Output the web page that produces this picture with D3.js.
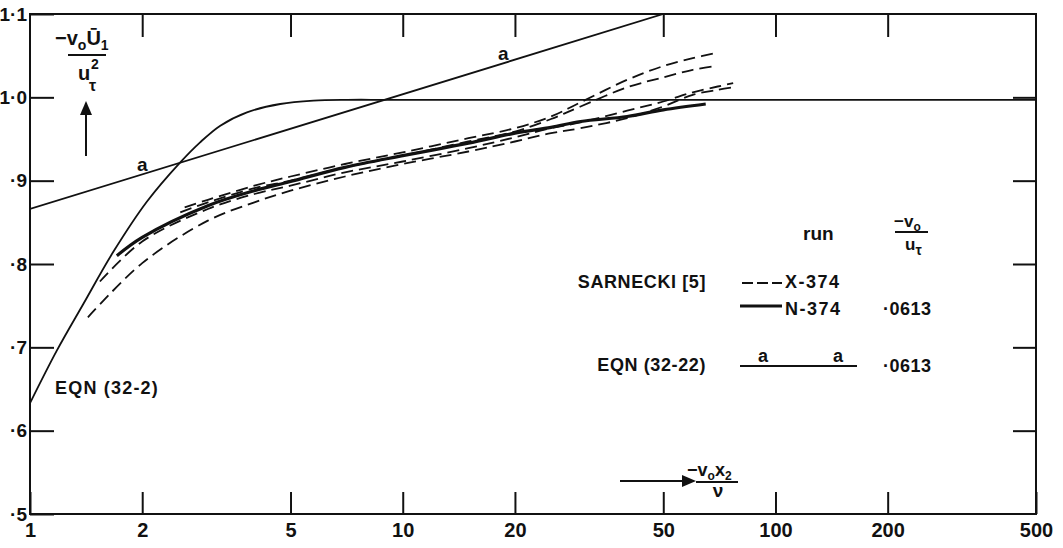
<!DOCTYPE html>
<html>
<head>
<meta charset="utf-8">
<script src="https://cdn.jsdelivr.net/npm/d3@7"></script>
<style>
  body { margin: 0; background: #fff; }
  text { font-family: "Liberation Sans", Arial, sans-serif; font-weight: bold; fill: #111; }
</style>
</head>
<body>
<svg id="chart" width="1063" height="548"></svg>
<script>
// axis values
const xTicks = [1, 2, 5, 10, 20, 50, 100, 200, 500];
const yTicks = [0.5, 0.6, 0.7, 0.8, 0.9, 1.0, 1.1];
const yTickLabels = ["·5", "·6", "·7", "·8", "·9", "1·0", "1·1"];

// EQN (32-2)
const eqnX = [1, 1.18, 1.39, 1.67, 2.06, 2.53, 2.86, 3.24, 3.82, 4.69, 5.76, 7.1, 9.4, 500];
const eqnY = [0.633, 0.696, 0.752, 0.814, 0.875, 0.922, 0.946, 0.966, 0.982, 0.992, 0.996, 0.997, 0.997, 0.997];

// EQN (32-22), straight line "a"
const lineAX = [1, 50];
const lineAY = [0.866, 1.1];
const aLabelX = [2.0, 18.6];

// N-374 (solid)
const n374X = [1.71, 2, 3, 4, 5, 7, 10, 15, 20, 25, 30, 40, 50, 65];
const n374Y = [0.810, 0.832, 0.870, 0.888, 0.899, 0.916, 0.930, 0.945, 0.957, 0.964, 0.971, 0.977, 0.985, 0.992];

// X-374 (dashed, four traces)
const x374aX = [1.43, 2, 3, 4, 5, 7, 10, 15, 20, 25, 30, 40, 50, 60, 70, 77];
const x374aY = [0.736, 0.801, 0.852, 0.874, 0.888, 0.905, 0.920, 0.935, 0.947, 0.957, 0.963, 0.975, 0.989, 1.003, 1.009, 1.012];
const x374bX = [1.54, 2, 3, 4, 5, 7, 10, 15, 20, 25, 30, 40, 50, 60, 70, 77];
const x374bY = [0.779, 0.827, 0.866, 0.884, 0.894, 0.910, 0.923, 0.939, 0.952, 0.963, 0.970, 0.984, 0.995, 1.006, 1.013, 1.017];
const x374cX = [2.53, 3, 4, 5, 7, 10, 15, 20, 25, 30, 40, 50, 60, 69];
const x374cY = [0.862, 0.874, 0.891, 0.900, 0.916, 0.930, 0.947, 0.959, 0.974, 0.989, 1.012, 1.024, 1.033, 1.0375];
const x374dX = [2.6, 3, 4, 5, 7, 10, 15, 20, 25, 30, 40, 50, 60, 69];
const x374dY = [0.868, 0.877, 0.894, 0.905, 0.920, 0.934, 0.951, 0.963, 0.977, 0.994, 1.021, 1.0375, 1.047, 1.053];

const ink = "#111";
const svg = d3.select("#chart");

const x = d3.scaleLog().domain([1, 500]).range([30, 1036]);
const y = d3.scaleLinear().domain([0.5, 1.1]).range([514, 14]);

const zip = (xs, ys) => xs.map((v, i) => [v, ys[i]]);
const line = d3.line().x(d => x(d[0])).y(d => y(d[1])).curve(d3.curveCatmullRom.alpha(0.5));

svg.append("clipPath").attr("id", "plot")
  .append("rect").attr("x", 30).attr("y", 14).attr("width", 1006).attr("height", 500);

// axes (ticks drawn inward)
function styleAxis(g, size) {
  g.select(".domain").remove();
  g.attr("color", ink).attr("font-size", size).attr("font-family", null);
  g.selectAll(".tick line").attr("stroke-width", 2);
}

svg.append("g").attr("transform", "translate(0,514)")
  .call(d3.axisBottom(x).tickValues(xTicks).tickFormat(d3.format("d")).tickSize(-22).tickPadding(9))
  .call(g => styleAxis(g, 20));

svg.append("g").attr("transform", "translate(0,14)")
  .call(d3.axisTop(x).tickValues(xTicks.slice(1, -1)).tickFormat("").tickSize(-23))
  .call(g => styleAxis(g, 20));

svg.append("g").attr("transform", "translate(30,0)")
  .call(d3.axisLeft(y).tickValues(yTicks).tickFormat((d, i) => yTickLabels[i]).tickSize(-24).tickPadding(3))
  .call(g => styleAxis(g, 19));

svg.append("g").attr("transform", "translate(1036,0)")
  .call(d3.axisRight(y).tickValues(yTicks.slice(1, -1)).tickFormat("").tickSize(-23))
  .call(g => styleAxis(g, 19));

// frame
svg.append("rect").attr("x", 30).attr("y", 14).attr("width", 1006).attr("height", 500)
  .attr("fill", "none").attr("stroke", ink).attr("stroke-width", 2);

// curves
const plot = svg.append("g").attr("clip-path", "url(#plot)").attr("fill", "none").attr("stroke", ink);

plot.append("path").attr("d", line(zip(eqnX, eqnY))).attr("stroke-width", 1.8);
plot.append("path").attr("d", line(zip(lineAX, lineAY))).attr("stroke-width", 1.8);

[[x374aX, x374aY], [x374bX, x374bY], [x374cX, x374cY], [x374dX, x374dY]].forEach(([xs, ys]) => {
  plot.append("path").attr("d", line(zip(xs, ys)))
    .attr("stroke-width", 1.8).attr("stroke-dasharray", "12,6");
});

plot.append("path").attr("d", line(zip(n374X, n374Y))).attr("stroke-width", 3.2);

// "a" labels on the straight line
const aAt = v => lineAY[0] + (lineAY[1] - lineAY[0]) * Math.log10(v) / Math.log10(lineAX[1]);
aLabelX.forEach(v => {
  svg.append("text").attr("x", x(v)).attr("y", y(aAt(v)) - 3)
    .attr("text-anchor", "middle").attr("font-size", 19).text("a");
});

svg.append("text").attr("x", 55).attr("y", 394).attr("font-size", 18)
  .attr("letter-spacing", 1.2).text("EQN (32-2)");

// y axis title
const yt = svg.append("text").attr("x", 55).attr("y", 45).attr("font-size", 20);
yt.append("tspan").text("−v");
yt.append("tspan").attr("dy", 5).attr("font-size", 14).text("o");
yt.append("tspan").attr("dy", -5).text("Ū");
yt.append("tspan").attr("dy", 5).attr("font-size", 14).text("1");
svg.append("line").attr("x1", 68).attr("x2", 106).attr("y1", 55).attr("y2", 55)
  .attr("stroke", ink).attr("stroke-width", 2);
svg.append("text").attr("x", 78).attr("y", 80).attr("font-size", 20).text("u");
svg.append("text").attr("x", 91).attr("y", 69).attr("font-size", 14).text("2");
svg.append("text").attr("x", 89).attr("y", 91).attr("font-size", 16).text("τ");
svg.append("line").attr("x1", 86).attr("x2", 86).attr("y1", 156).attr("y2", 112)
  .attr("stroke", ink).attr("stroke-width", 2);
svg.append("path").attr("d", "M80,115 L86,101 L92,115 Z").attr("fill", ink);

// x axis title
svg.append("line").attr("x1", 620).attr("x2", 684).attr("y1", 481).attr("y2", 481)
  .attr("stroke", ink).attr("stroke-width", 2);
svg.append("path").attr("d", "M682,475 L696,481 L682,487 Z").attr("fill", ink);
const xt = svg.append("text").attr("x", 687).attr("y", 476).attr("font-size", 18);
xt.append("tspan").text("−v");
xt.append("tspan").attr("dy", 4).attr("font-size", 12).text("o");
xt.append("tspan").attr("dy", -4).text("x");
xt.append("tspan").attr("dy", 4).attr("font-size", 12).text("2");
svg.append("line").attr("x1", 696).attr("x2", 738).attr("y1", 482).attr("y2", 482)
  .attr("stroke", ink).attr("stroke-width", 2);
svg.append("text").attr("x", 718).attr("y", 497).attr("text-anchor", "middle")
  .attr("font-size", 19).text("ν");

// legend
svg.append("text").attr("x", 803).attr("y", 240).attr("font-size", 19).text("run");
const lt = svg.append("text").attr("x", 894).attr("y", 227).attr("font-size", 17);
lt.append("tspan").text("−v");
lt.append("tspan").attr("dy", 4).attr("font-size", 12).text("o");
svg.append("line").attr("x1", 895).attr("x2", 928).attr("y1", 232).attr("y2", 232)
  .attr("stroke", ink).attr("stroke-width", 2);
const lb = svg.append("text").attr("x", 905).attr("y", 250).attr("font-size", 17);
lb.append("tspan").text("u");
lb.append("tspan").attr("dy", 5).attr("font-size", 14).text("τ");

svg.append("text").attr("x", 706).attr("y", 288).attr("text-anchor", "end")
  .attr("font-size", 18).attr("letter-spacing", 0.6).text("SARNECKI [5]");
svg.append("line").attr("x1", 742).attr("x2", 782).attr("y1", 283).attr("y2", 283)
  .attr("stroke", ink).attr("stroke-width", 2).attr("stroke-dasharray", "11,4");
svg.append("text").attr("x", 785).attr("y", 288).attr("font-size", 18)
  .attr("letter-spacing", 1.5).text("X-374");

svg.append("line").attr("x1", 740).attr("x2", 782).attr("y1", 306).attr("y2", 306)
  .attr("stroke", ink).attr("stroke-width", 3.2);
svg.append("text").attr("x", 785).attr("y", 315).attr("font-size", 18)
  .attr("letter-spacing", 1.5).text("N-374");
svg.append("text").attr("x", 883).attr("y", 315).attr("font-size", 18)
  .attr("letter-spacing", 0.5).text("·0613");

svg.append("text").attr("x", 706).attr("y", 371).attr("text-anchor", "end")
  .attr("font-size", 18).attr("letter-spacing", 0.6).text("EQN (32-22)");
svg.append("line").attr("x1", 740).attr("x2", 857).attr("y1", 366).attr("y2", 366)
  .attr("stroke", ink).attr("stroke-width", 1.8);
[763, 838].forEach(px => {
  svg.append("text").attr("x", px).attr("y", 362).attr("text-anchor", "middle")
    .attr("font-size", 18).text("a");
});
svg.append("text").attr("x", 883).attr("y", 372).attr("font-size", 18)
  .attr("letter-spacing", 0.5).text("·0613");
</script>
</body>
</html>
